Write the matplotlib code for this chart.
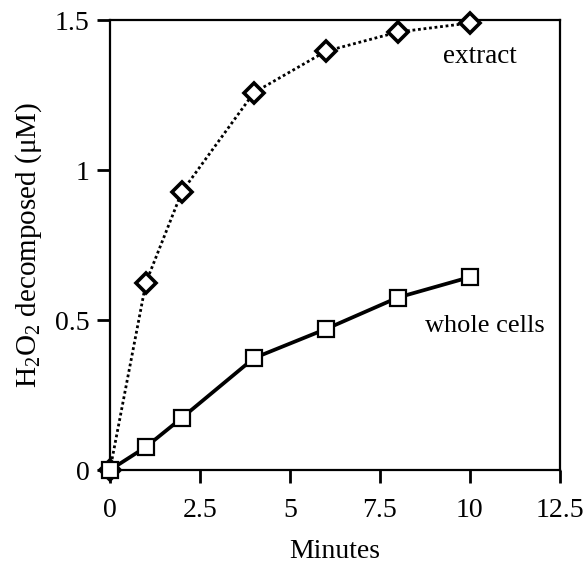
import matplotlib
matplotlib.use('Agg')
import matplotlib.pyplot as plt

plt.rcParams['font.family'] = ['Liberation Serif', 'DejaVu Serif']
plt.rcParams['mathtext.fontset'] = 'custom'
plt.rcParams['mathtext.rm'] = 'Liberation Serif'
plt.rcParams['mathtext.it'] = 'Liberation Serif:italic'

minutes = [0, 1, 2, 4, 6, 8, 10]
extract = [0, 0.625, 0.928, 1.258, 1.396, 1.46, 1.49]
whole_cells = [0, 0.077, 0.174, 0.373, 0.47, 0.575, 0.643]
xticks = [0, 2.5, 5, 7.5, 10, 12.5]
xticklabels = ["0", "2.5", "5", "7.5", "10", "12.5"]
yticks = [0, 0.5, 1, 1.5]
yticklabels = ["0", "0.5", "1", "1.5"]

fig = plt.figure(figsize=(5.85, 5.66), dpi=100)
ax = fig.add_axes([0.188, 0.1696, 0.769, 0.795])

ax.plot(minutes, extract, color='black', lw=2.0, linestyle=(0, (1, 1)),
        marker='D', ms=10, mfc='white', mec='black', mew=2.6, clip_on=False, zorder=3)
ax.plot(minutes, whole_cells, color='black', lw=2.7, linestyle='-',
        marker='s', ms=11, mfc='white', mec='black', mew=1.6, clip_on=False, zorder=3)

ax.text(9.25, 1.357, "extract", fontsize=19.5, ha='left', va='baseline')
ax.text(8.75, 0.46, "whole cells", fontsize=19, ha='left', va='baseline')

ax.set_xlim(0, 12.5)
ax.set_ylim(0, 1.5)
ax.set_xticks(xticks)
ax.set_xticklabels(xticklabels)
ax.set_yticks(yticks)
ax.set_yticklabels(yticklabels)
ax.tick_params(direction='out', length=9.5, width=2, labelsize=20, pad=5)
ax.tick_params(axis='x', pad=11)
for s in ax.spines.values():
    s.set_linewidth(1.6)

ax.set_xlabel("Minutes", fontsize=20, labelpad=11)
ax.set_ylabel("H$_2$O$_2$ decomposed (μM)", fontsize=21, labelpad=8)

fig.savefig("out.png", dpi=100, facecolor='white')
